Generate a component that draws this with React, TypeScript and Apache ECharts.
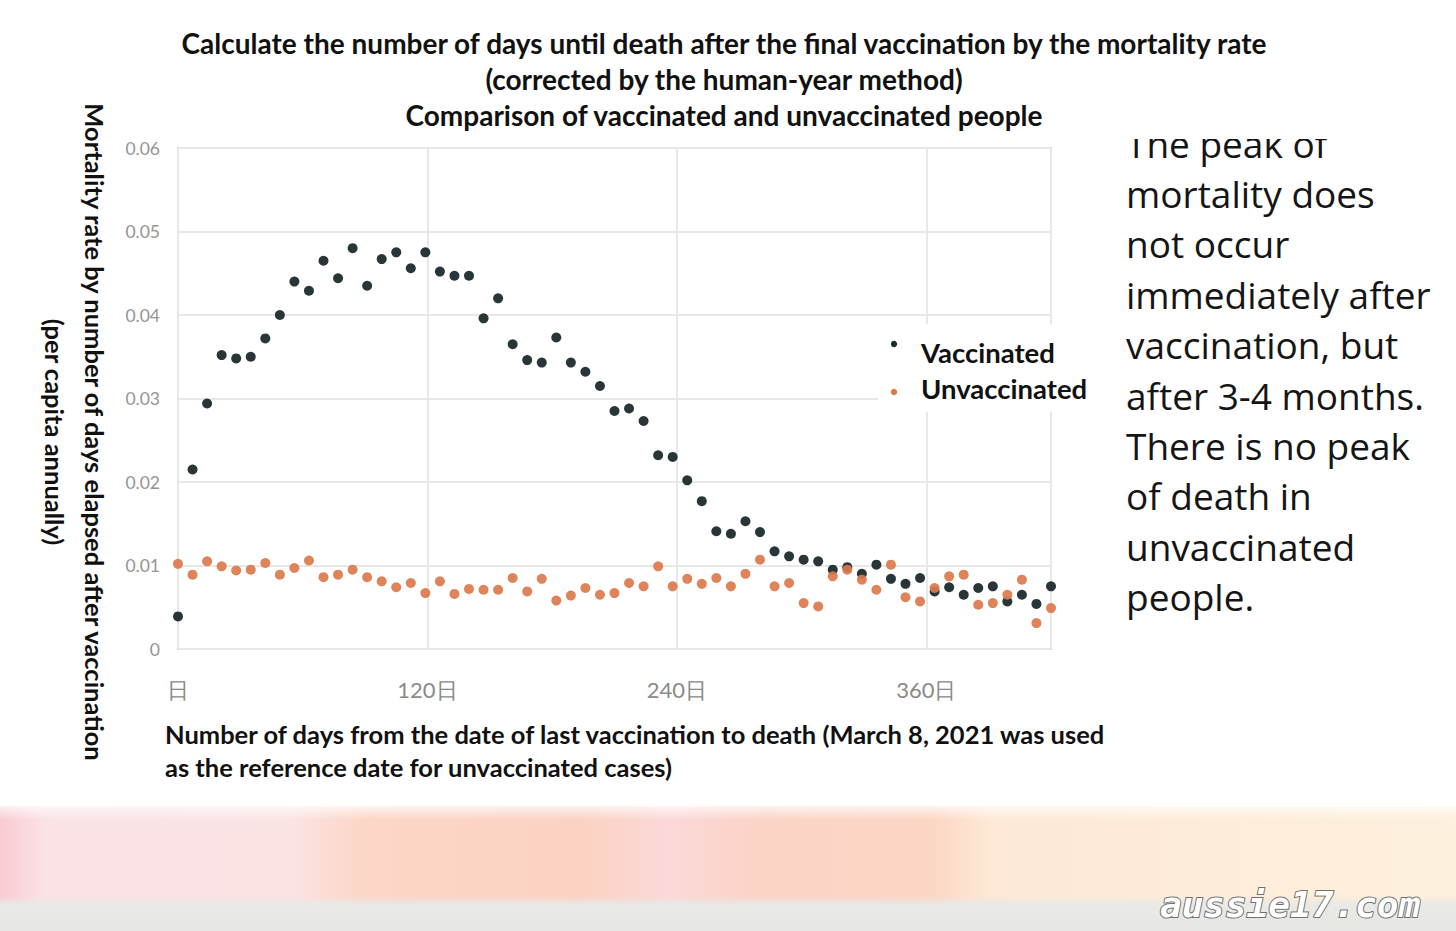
import React, { useEffect, useRef } from "react";
import * as echarts from "echarts";

const DAYS = [0, 7, 14, 21, 28, 35, 42, 49, 56, 63, 70, 77, 84, 91, 98, 105, 112, 119, 126, 133, 140, 147, 154, 161, 168, 175, 182, 189, 196, 203, 210, 217, 224, 231, 238, 245, 252, 259, 266, 273, 280, 287, 294, 301, 308, 315, 322, 329, 336, 343, 350, 357, 364, 371, 378, 385, 392, 399, 406, 413, 420];

const VACCINATED = [
  0.0039, 0.0215, 0.0294, 0.0352, 0.0348, 0.0350, 0.0372, 0.0400, 0.0440, 0.0429,
  0.0465, 0.0444, 0.0480, 0.0435, 0.0467, 0.0475, 0.0456, 0.0475, 0.0452, 0.0447,
  0.0447, 0.0396, 0.0420, 0.0365, 0.0346, 0.0343, 0.0373, 0.0343, 0.0332, 0.0315,
  0.0285, 0.0288, 0.0273, 0.0232, 0.0230, 0.0202, 0.0177, 0.0141, 0.0138, 0.0153,
  0.0140, 0.0117, 0.0111, 0.0107, 0.0105, 0.0095, 0.0098, 0.0090, 0.0101, 0.0084,
  0.0078, 0.0085, 0.0069, 0.0074, 0.0065, 0.0073, 0.0075, 0.0057, 0.0065, 0.0054, 0.0075,
];

const UNVACCINATED = [
  0.0102, 0.0089, 0.0105, 0.0099, 0.0094, 0.0095, 0.0103, 0.0089, 0.0097, 0.0106,
  0.0086, 0.0089, 0.0095, 0.0086, 0.0081, 0.0074, 0.0079, 0.0067, 0.0081, 0.0066,
  0.0072, 0.0071, 0.0071, 0.0085, 0.0069, 0.0084, 0.0058, 0.0064, 0.0073, 0.0065,
  0.0067, 0.0079, 0.0075, 0.0099, 0.0075, 0.0084, 0.0078, 0.0085, 0.0075, 0.0090,
  0.0107, 0.0075, 0.0079, 0.0055, 0.0051, 0.0087, 0.0095, 0.0083, 0.0071, 0.0101,
  0.0062, 0.0057, 0.0073, 0.0087, 0.0089, 0.0053, 0.0055, 0.0065, 0.0083, 0.0031, 0.0049,
];

const SERIES_NAMES = ["Vaccinated", "Unvaccinated"];
const X_TICKS = [0, 120, 240, 360];
const X_TICK_SUFFIX = "日";

const TITLE_LINES = [
  "Calculate the number of days until death after the final vaccination by the mortality rate",
  "(corrected by the human-year method)",
  "Comparison of vaccinated and unvaccinated people",
];
const Y_TITLE_LINES = [
  "Mortality rate by number of days elapsed after vaccination",
  "(per capita annually)",
];
const X_TITLE_LINES = [
  "Number of days from the date of last vaccination to death (March 8, 2021 was used",
  "as the reference date for unvaccinated cases)",
];
const NOTE_LINES = [
  "The peak of",
  "mortality does",
  "not occur",
  "immediately after",
  "vaccination, but",
  "after 3-4 months.",
  "There is no peak",
  "of death in",
  "unvaccinated",
  "people.",
];
const WATERMARK = "aussie17.com";

const DARK = "#1d2b2e";
const ORANGE = "#dc7a4c";
const FONT = "Lato, 'Open Sans', sans-serif";

export default function App() {
  const ref = useRef<HTMLDivElement>(null);

  useEffect(() => {
    if (!ref.current) return;
    const chart = echarts.init(ref.current, undefined, { renderer: "svg" });

    const graphic: any[] = [];
    // bottom decorative band
    graphic.push({
      type: "rect",
      shape: { x: 0, y: 806, width: 1456, height: 98 },
      style: {
        fill: new echarts.graphic.LinearGradient(0, 0, 1, 0, [
          { offset: 0, color: "#f8cbd2" },
          { offset: 0.03, color: "#fbe2e5" },
          { offset: 0.2, color: "#fbe3e4" },
          { offset: 0.25, color: "#fcd6c6" },
          { offset: 0.4, color: "#fbd2c2" },
          { offset: 0.46, color: "#fbd8d9" },
          { offset: 0.52, color: "#fbd3c6" },
          { offset: 0.64, color: "#fcd6c4" },
          { offset: 0.68, color: "#fde9d5" },
          { offset: 1, color: "#fdf0dc" },
        ]),
      },
      z: 0,
    });
    graphic.push({
      type: "rect",
      shape: { x: 0, y: 800, width: 1456, height: 20 },
      style: {
        fill: new echarts.graphic.LinearGradient(0, 0, 0, 1, [
          { offset: 0, color: "rgba(255,255,255,1)" },
          { offset: 1, color: "rgba(255,255,255,0)" },
        ]),
      },
      z: 1,
    });
    graphic.push({
      type: "rect",
      shape: { x: 0, y: 896, width: 1456, height: 35 },
      style: {
        fill: new echarts.graphic.LinearGradient(0, 0, 0, 1, [
          { offset: 0, color: "rgba(232,232,228,0)" },
          { offset: 0.25, color: "#e9e9e6" },
          { offset: 1, color: "#e6e6e3" },
        ]),
      },
      z: 1,
    });
    graphic.push({
      type: "text",
      x: 1160,
      y: 904,
      z: 5,
      style: {
        text: WATERMARK,
        fill: "#ffffff",
        stroke: "#707070",
        lineWidth: 2,
        fontSize: 36,
        fontStyle: "italic",
        fontWeight: "bold",
        fontFamily: "'DejaVu Sans Mono', monospace",
        textAlign: "left",
        textVerticalAlign: "middle",
      },
    });

    // titles
    TITLE_LINES.forEach((t, i) => {
      graphic.push({
        type: "text",
        x: 724,
        y: 43 + i * 36,
        style: {
          text: t,
          fill: "#111",
          fontSize: 28,
          fontWeight: "bold",
          fontFamily: FONT,
          textAlign: "center",
          textVerticalAlign: "middle",
        },
      });
    });

    // y title (rotated)
    Y_TITLE_LINES.forEach((t, i) => {
      graphic.push({
        type: "text",
        x: i === 0 ? 95 : 55,
        y: 432,
        rotation: -Math.PI / 2,
        style: {
          text: t,
          fill: "#111",
          fontSize: 25.5,
          fontWeight: "bold",
          fontFamily: FONT,
          textAlign: "center",
          textVerticalAlign: "middle",
        },
      });
    });

    // x title
    X_TITLE_LINES.forEach((t, i) => {
      graphic.push({
        type: "text",
        x: 165,
        y: 734 + i * 33,
        style: {
          text: t,
          fill: "#111",
          fontSize: 25.5,
          fontWeight: "bold",
          fontFamily: FONT,
          textAlign: "left",
          textVerticalAlign: "middle",
        },
      });
    });

    // note text
    NOTE_LINES.forEach((t, i) => {
      graphic.push({
        type: "text",
        x: 1126,
        y: 143 + i * 50.4,
        style: {
          text: t,
          fill: "#151515",
          fontSize: 37,
          fontFamily: "'Open Sans', sans-serif",
          textAlign: "left",
          textVerticalAlign: "middle",
        },
        z: 10,
      });
    });
    graphic.push({
      type: "rect",
      shape: { x: 1100, y: 90, width: 356, height: 49 },
      style: { fill: "#ffffff" },
      z: 11,
    });

    // legend box
    graphic.push({
      type: "rect",
      shape: { x: 878, y: 324, width: 220, height: 88 },
      style: { fill: "#ffffff" },
      z: 20,
    });
    const legendColors = [DARK, ORANGE];
    SERIES_NAMES.forEach((n, i) => {
      graphic.push({
        type: "circle",
        shape: { cx: 894, cy: i === 0 ? 344 : 392, r: 3.2 },
        style: { fill: legendColors[i] },
        z: 21,
      });
      graphic.push({
        type: "text",
        x: 921,
        y: i === 0 ? 352 : 388,
        style: {
          text: n,
          fill: "#111",
          fontSize: 27.5,
          fontWeight: "bold",
          fontFamily: FONT,
          textAlign: "left",
          textVerticalAlign: "middle",
        },
        z: 21,
      });
    });

    const option: any = {
      animation: false,
      backgroundColor: "#ffffff",
      grid: {
        left: 178,
        right: 405,
        top: 148,
        bottom: 282,
        show: true,
        borderColor: "#bdbdbd",
        borderWidth: 2,
        backgroundColor: "transparent",
      },
      xAxis: {
        type: "value",
        min: 0,
        max: 420,
        interval: 120,
        axisLine: { show: false },
        axisTick: { show: false },
        splitLine: { show: true, lineStyle: { color: "#e8e8e8", width: 2 } },
        axisLabel: {
          margin: 29,
          color: "#8a8a8a",
          fontSize: 22,
          fontFamily: FONT,
          showMaxLabel: false,
          formatter: (v: number) =>
            X_TICKS.includes(v) ? (v === 0 ? X_TICK_SUFFIX : v + X_TICK_SUFFIX) : "",
        },
      },
      yAxis: {
        type: "value",
        min: 0,
        max: 0.06,
        interval: 0.01,
        axisLine: { show: false },
        axisTick: { show: false },
        splitLine: { show: true, lineStyle: { color: "#e8e8e8", width: 2 } },
        axisLabel: {
          margin: 18,
          color: "#959595",
          fontSize: 17.5,
          fontFamily: FONT,
          formatter: (v: number) => (v === 0 ? "0" : v.toFixed(2)),
        },
      },
      series: [
        {
          name: SERIES_NAMES[0],
          type: "scatter",
          symbolSize: 10,
          itemStyle: { color: DARK, opacity: 0.95 },
          data: DAYS.map((d, i) => [d, VACCINATED[i]]),
          z: 3,
        },
        {
          name: SERIES_NAMES[1],
          type: "scatter",
          symbolSize: 10,
          itemStyle: { color: ORANGE, opacity: 0.92 },
          data: DAYS.map((d, i) => [d, UNVACCINATED[i]]),
          z: 4,
        },
      ],
      graphic: graphic,
    };

    chart.setOption(option);
    return () => chart.dispose();
  }, []);

  return (
    <div style={{ position: "fixed", left: 0, top: 0, width: 1456, height: 931, background: "#fff" }}>
      <div ref={ref} style={{ width: 1456, height: 931 }} />
    </div>
  );
}
